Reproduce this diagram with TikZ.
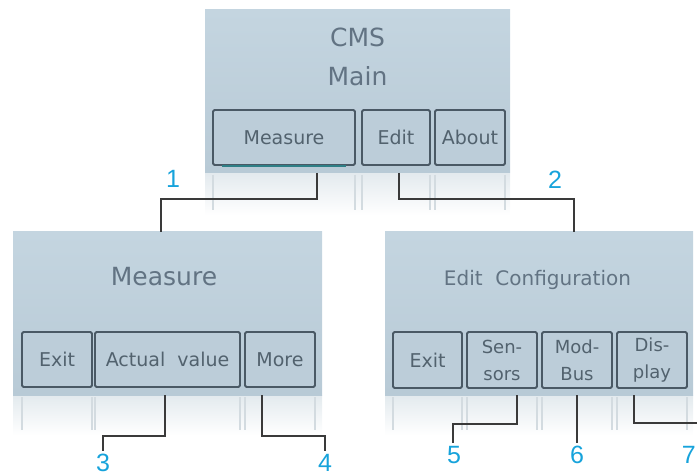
\documentclass[tikz,border=0pt]{standalone}
\usepackage{fontspec}
\setmainfont{DejaVu Sans}
\newfontfamily\numfont{Liberation Sans}
\usetikzlibrary{calc}
\definecolor{scrtop}{HTML}{C4D5E0}
\definecolor{scrbot}{HTML}{B8CAD6}
\definecolor{btnline}{HTML}{4A5965}
\definecolor{btntext}{HTML}{52626E}
\definecolor{titletext}{HTML}{627383}
\definecolor{refl}{HTML}{E3EAEE}
\definecolor{reflline}{HTML}{D3DBE0}
\definecolor{labcol}{HTML}{17A3DB}
\definecolor{conncol}{HTML}{3A3A3A}
\definecolor{selcol}{HTML}{2E7F86}
\tikzset{
  screen/.style={draw=none, top color=scrtop, bottom color=scrbot, inner sep=0pt},
  btn/.style={draw=btnline, line width=1.8pt, rounded corners=1.5pt, fill=scrbot!70!scrtop,
    text=btntext, inner sep=0pt, font=\fontsize{19}{22}\selectfont},
  btntwo/.style={btn, align=center, font=\fontsize{18}{27}\selectfont},
  title/.style={text=titletext, inner sep=0pt, align=center},
  reflbox/.style={draw=none, top color=refl, bottom color=white, inner sep=0pt},
  reflbtn/.style={draw=reflline, line width=1.2pt, inner sep=0pt},
  conn/.style={draw=conncol, line width=1.2pt},
  lab/.style={text=labcol, inner sep=0pt, font=\numfont\fontsize{25}{25}\selectfont}
}
\begin{document}
\begin{tikzpicture}[x=1pt,y=-1pt]
\useasboundingbox (0,0) rectangle (697,476);
% reflections
\node[reflbox, minimum width=305, minimum height=42, anchor=north] (rM) at (357.5,173) {};
\node[reflbox, minimum width=309, minimum height=40, anchor=north] (rL) at (167.5,395) {};
\node[reflbox, minimum width=308, minimum height=40, anchor=north] (rR) at (539,395) {};
\foreach \a/\b/\t/\h in {213/355/175/35, 362/430/175/35, 435/505/175/35,
   22/92/397/33, 95/240/397/33, 245/315/397/33,
   393/462/397/33, 467/537/397/33, 542/612/397/33, 617/687/397/33}{
  \path[reflbtn] (\a,\t) -- (\a,\t+\h) (\b,\t) -- (\b,\t+\h);
}
% screens
\node[screen, minimum width=305, minimum height=163] (sM) at (357.5,91.5) {};
\node[screen, minimum width=309, minimum height=163] (sL) at (167.5,313.5) {};
\node[screen, minimum width=308, minimum height=163] (sR) at (539,313.5) {};
% titles
\node[title, font=\fontsize{25}{39}\selectfont] (tM) at (357.5,57) {CMS\\Main};
\node[title, font=\fontsize{25}{28}\selectfont] (tL) at (164,277) {Measure};
\node[title, font=\fontsize{20}{24}\selectfont] (tR) at (537.5,280) {Edit\ \ Configuration};
% buttons main
\node[btn, minimum width=142, minimum height=55] (bMeas) at (284,137.5) {Measure};
\draw[draw=selcol, line width=1.8pt] ([xshift=10pt]bMeas.south west) -- ([xshift=-10pt]bMeas.south east);
\node[btn, minimum width=68, minimum height=55] (bEdit) at (396,137.5) {Edit};
\node[btn, minimum width=70, minimum height=55] (bAbout) at (470,137.5) {About};
% buttons left
\node[btn, minimum width=70, minimum height=55] (lExit) at (57,359.5) {Exit};
\node[btn, minimum width=145, minimum height=55] (lAct) at (167.5,359.5) {Actual\ \ value};
\node[btn, minimum width=70, minimum height=55] (lMore) at (280,359.5) {More};
% buttons right
\node[btn, minimum width=69, minimum height=56] (rExit) at (427.5,360) {Exit};
\node[btntwo, minimum width=70, minimum height=56] (rSens) at (502,360) {Sen-\\sors};
\node[btntwo, minimum width=70, minimum height=56] (rMod) at (577,360) {Mod-\\Bus};
\node[btntwo, minimum width=70, minimum height=56] (rDisp) at (652,360) {Dis-\\play};
% labels
\node[lab] (n1) at (173,179) {1};
\node[lab] (n2) at (555,180) {2};
\node[lab, anchor=south] (n3) at (103,472) {3};
\node[lab, anchor=south] (n4) at (325,472) {4};
\node[lab, anchor=north] (n5) at (454,446) {5};
\node[lab, anchor=north] (n6) at (577,446) {6};
\node[lab, anchor=north east] (n7) at (696,446) {7};
% connector coordinates
\coordinate (c1) at (317,173);
\coordinate (k1) at (161,199);
\coordinate (c2) at (399,173);
\coordinate (k2) at (574,199);
\coordinate (c3) at (165,395);
\coordinate (k3) at (103,436);
\coordinate (c4) at (262,395);
\coordinate (k4) at (325,436);
\coordinate (c5) at (517,395);
\coordinate (k5) at (453,424);
\coordinate (c6) at (577,395);
\coordinate (c7) at (634,395);
\coordinate (e7) at (697,423);
% connectors
\draw[conn] (c1) |- (k1) -- (sL.north -| k1);
\draw[conn] (c2) |- (k2) -- (sR.north -| k2);
\draw[conn] (c3) |- (k3) -- ([yshift=3pt]n3.north -| k3);
\draw[conn] (c4) |- (k4) -- ([yshift=3pt]n4.north -| k4);
\draw[conn] (c5) |- (k5) -- ([yshift=3pt]n5.north -| k5);
\draw[conn] (c6) -- ([yshift=3pt]n6.north -| c6);
\draw[conn] (c7) |- (e7);
\end{tikzpicture}
\end{document}
